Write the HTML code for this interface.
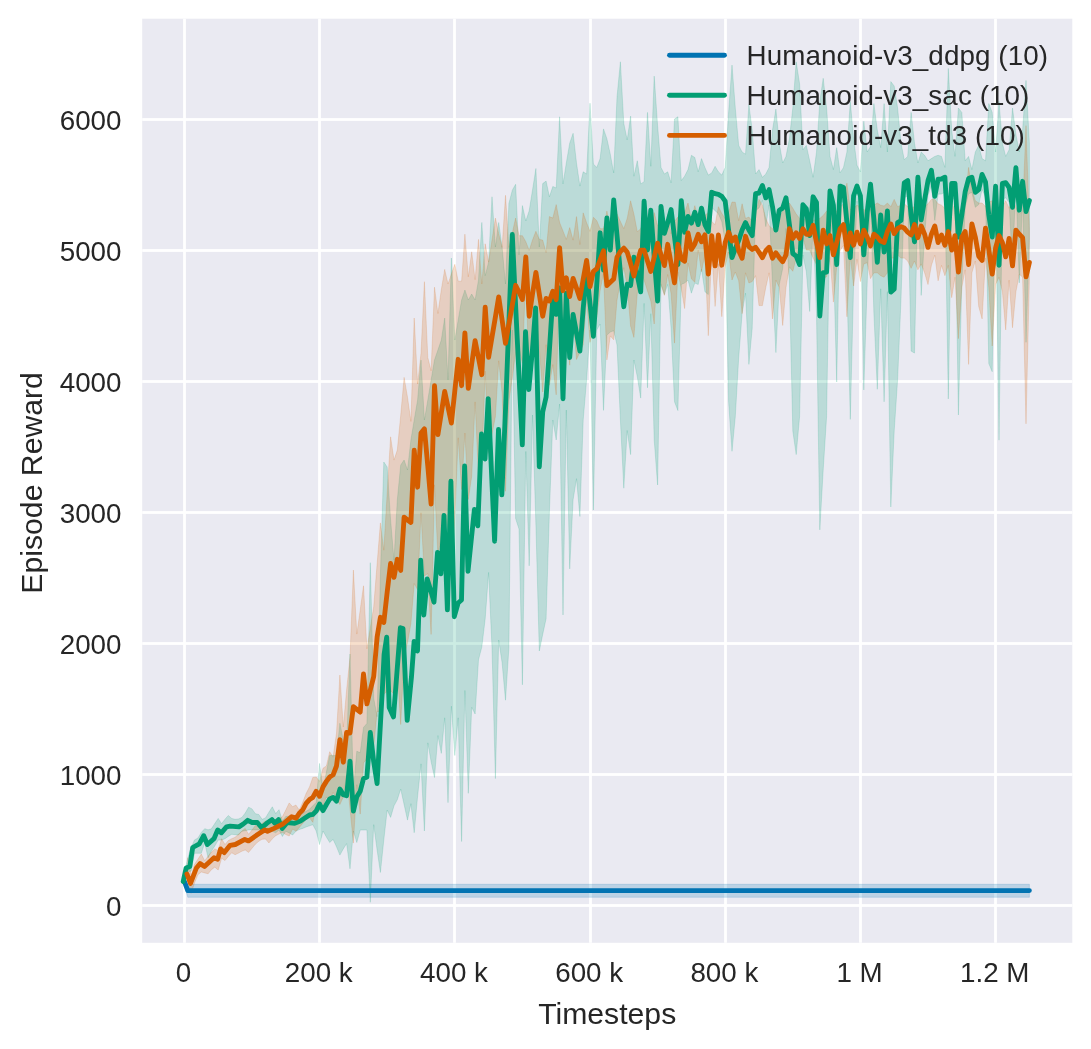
<!DOCTYPE html>
<html lang="en">
<head>
<meta charset="utf-8">
<title>Humanoid-v3 Episode Reward</title>
<style>
html,body{margin:0;padding:0;background:#fff;}
body{width:1091px;height:1049px;overflow:hidden;}
svg{display:block;}
text{font-family:"Liberation Sans", "DejaVu Sans", sans-serif;fill:#262626;}
.tick{font-size:27.78px;}
.lab{font-size:30.2px;}
.leg{font-size:27.78px;letter-spacing:0.1px;}
</style>
</head>
<body>
<svg width="1091" height="1049" viewBox="0 0 1091 1049">
<rect x="0" y="0" width="1091" height="1049" fill="#ffffff"/>
<rect x="142.2" y="18.7" width="930.1" height="924.1" fill="#EAEAF2"/>
<defs><clipPath id="axclip"><rect x="142.2" y="18.7" width="930.1" height="924.1"/></clipPath></defs>
<g fill="#ffffff">
<rect x="183.11" y="18.7" width="2.78" height="924.1"/>
<rect x="318.11" y="18.7" width="2.78" height="924.1"/>
<rect x="453.11" y="18.7" width="2.78" height="924.1"/>
<rect x="589.11" y="18.7" width="2.78" height="924.1"/>
<rect x="724.11" y="18.7" width="2.78" height="924.1"/>
<rect x="859.11" y="18.7" width="2.78" height="924.1"/>
<rect x="994.11" y="18.7" width="2.78" height="924.1"/>
<rect x="142.2" y="904.11" width="930.1" height="2.78"/>
<rect x="142.2" y="773.11" width="930.1" height="2.78"/>
<rect x="142.2" y="642.11" width="930.1" height="2.78"/>
<rect x="142.2" y="511.11" width="930.1" height="2.78"/>
<rect x="142.2" y="380.11" width="930.1" height="2.78"/>
<rect x="142.2" y="249.11" width="930.1" height="2.78"/>
<rect x="142.2" y="118.11" width="930.1" height="2.78"/>
</g>
<g clip-path="url(#axclip)">
<polygon points="184.4,877.0 187.8,884.3 1029.4,884.3 1029.4,897.3 187.8,897.3 184.4,886.0" fill="#0173B2" fill-opacity="0.2" stroke="#0173B2" stroke-opacity="0.2" stroke-width="0.8" stroke-linejoin="round"/>
<polygon points="184.4,873.0 187.8,858.1 191.2,847.4 194.5,839.9 197.9,838.1 201.3,832.4 204.7,828.7 208.1,829.8 211.4,828.8 214.8,823.5 218.2,818.4 221.6,823.7 225.0,819.2 228.3,815.5 231.7,818.4 235.1,819.3 238.5,818.9 241.9,817.4 245.2,813.1 248.6,807.2 252.0,808.9 255.4,813.7 258.8,814.5 262.1,819.3 265.5,817.9 268.9,812.2 272.3,806.8 275.7,813.6 279.0,809.7 282.4,820.8 285.8,816.4 289.2,816.3 292.6,818.8 295.9,818.3 299.3,816.4 302.7,813.3 306.1,811.3 309.5,809.2 312.8,805.8 316.2,802.4 319.6,763.4 323.0,790.1 326.4,772.1 329.7,755.4 333.1,755.5 336.5,755.6 339.9,723.2 343.3,740.2 346.6,747.0 350.0,654.0 353.4,791.2 356.8,751.2 360.2,752.8 363.5,727.4 366.9,723.5 370.3,562.7 373.7,698.1 377.1,716.7 380.4,574.9 383.8,462.0 387.2,467.0 390.6,520.0 394.0,560.0 397.3,500.0 400.7,465.0 404.1,460.0 407.5,470.0 410.9,440.0 414.2,420.0 417.6,400.0 421.0,360.0 424.4,420.0 427.8,400.0 431.1,380.0 434.5,360.0 437.9,350.0 441.3,340.0 444.7,318.0 448.0,380.0 451.4,258.0 454.8,340.0 458.2,320.0 461.6,300.0 464.9,290.0 468.3,300.0 471.7,294.0 475.1,300.0 478.5,280.0 481.8,222.5 485.2,275.7 488.6,262.0 492.0,196.8 495.4,247.0 498.7,222.5 502.1,247.0 505.5,284.0 508.9,203.4 512.3,190.2 515.6,184.3 519.0,254.8 522.4,205.6 525.8,221.0 529.2,210.7 532.5,190.0 535.9,168.5 539.3,247.0 542.7,183.6 546.1,181.1 549.4,196.8 552.8,186.5 556.2,188.0 559.6,116.8 563.0,183.9 566.3,163.0 569.7,143.2 573.1,133.3 576.5,163.0 579.9,186.1 583.2,171.8 586.6,174.0 590.0,103.2 593.4,164.1 596.8,167.4 600.1,158.6 603.5,128.9 606.9,138.8 610.3,154.2 613.7,172.9 617.0,97.0 620.4,61.8 623.8,123.4 627.2,139.9 630.6,116.1 633.9,176.2 637.3,160.8 640.7,183.9 644.1,181.7 647.5,112.4 650.8,166.3 654.2,76.1 657.6,125.6 661.0,167.4 664.4,174.0 667.7,171.8 671.1,182.8 674.5,119.0 677.9,116.8 681.3,180.6 684.6,176.2 688.0,169.6 691.4,155.3 694.8,157.5 698.2,171.8 701.5,158.6 704.9,167.4 708.3,175.1 711.7,172.9 715.1,166.3 718.4,171.8 721.8,175.1 725.2,167.4 728.6,112.4 732.0,65.1 735.3,108.0 738.7,145.4 742.1,152.0 745.5,154.2 748.9,104.7 752.2,130.0 755.6,174.0 759.0,169.6 762.4,177.3 765.8,174.0 769.1,167.4 772.5,130.0 775.9,109.1 779.3,143.2 782.7,163.0 786.0,156.4 789.4,138.8 792.8,108.0 796.2,61.8 799.6,83.8 802.9,149.8 806.3,145.4 809.7,160.8 813.1,177.3 816.5,152.0 819.8,101.4 823.2,78.3 826.6,108.0 830.0,156.4 833.4,169.6 836.7,147.6 840.1,172.9 843.5,167.4 846.9,152.0 850.3,101.4 853.6,138.8 857.0,165.2 860.4,171.8 863.8,121.2 867.2,152.0 870.5,146.5 873.9,103.6 877.3,130.0 880.7,147.6 884.1,103.6 887.4,152.0 890.8,81.6 894.2,86.0 897.6,108.0 901.0,143.2 904.3,159.7 907.7,156.4 911.1,112.4 914.5,143.2 917.9,163.0 921.2,152.0 924.6,155.3 928.0,160.8 931.4,158.6 934.8,156.4 938.1,155.3 941.5,156.4 944.9,167.4 948.3,68.4 951.7,130.0 955.0,156.4 958.4,108.0 961.8,112.4 965.2,160.8 968.6,156.4 971.9,169.6 975.3,152.0 978.7,145.4 982.1,158.6 985.5,160.8 988.8,103.6 992.2,112.4 995.6,152.0 999.0,101.4 1002.4,143.2 1005.7,156.4 1009.1,149.8 1012.5,108.0 1015.9,134.4 1019.3,152.0 1022.6,130.0 1026.0,80.5 1029.4,143.2 1029.4,238.4 1026.0,342.3 1022.6,196.7 1019.3,282.9 1015.9,182.8 1012.5,265.6 1009.1,202.6 1005.7,197.8 1002.4,199.4 999.0,440.2 995.6,201.1 992.2,371.7 988.8,363.6 985.5,196.9 982.1,189.5 978.7,204.6 975.3,207.3 971.9,192.4 968.6,193.8 965.2,206.7 961.8,283.0 958.4,415.0 955.0,199.0 951.7,199.0 948.3,398.9 944.9,192.2 941.5,194.0 938.1,194.2 934.8,220.4 931.4,185.4 928.0,195.6 924.6,235.1 921.2,295.4 917.9,193.0 914.5,353.1 911.1,351.1 907.7,195.8 904.3,197.7 901.0,299.0 897.6,379.8 894.2,431.1 890.8,507.0 887.4,291.7 884.1,401.8 880.7,288.8 877.3,389.3 873.9,313.7 870.5,199.5 867.2,283.0 863.8,390.0 860.4,218.8 857.0,201.2 853.6,284.4 850.3,419.4 846.9,283.0 843.5,202.5 840.1,201.1 836.7,382.0 833.4,256.9 830.0,206.4 826.6,416.5 823.2,470.0 819.8,529.9 816.5,313.7 813.1,224.1 809.7,311.5 806.3,271.8 802.9,255.0 799.6,416.5 796.2,454.6 792.8,431.1 789.4,283.0 786.0,228.5 782.7,268.5 779.3,284.4 775.9,352.6 772.5,284.4 769.1,204.8 765.8,226.6 762.4,200.4 759.0,208.0 755.6,210.8 752.2,328.4 748.9,364.4 745.5,293.2 742.1,313.7 738.7,357.8 735.3,416.5 732.0,451.3 728.6,401.8 725.2,240.8 721.8,221.7 718.4,213.7 715.1,210.7 711.7,207.5 708.3,294.6 704.9,291.7 701.5,269.2 698.2,284.5 694.8,283.0 691.4,293.2 688.0,280.1 684.6,283.0 681.3,284.4 677.9,410.6 674.5,401.8 671.1,328.4 667.7,284.4 664.4,294.6 661.0,284.4 657.6,485.0 654.2,440.0 650.8,313.7 647.5,387.8 644.1,303.4 640.7,398.1 637.3,376.8 633.9,360.0 630.6,454.6 627.2,430.5 623.8,488.2 620.4,420.0 617.0,345.0 613.7,330.7 610.3,332.1 606.9,335.0 603.5,410.4 600.1,324.0 596.8,330.0 593.4,510.0 590.0,330.0 586.6,379.8 583.2,420.0 579.9,516.5 576.5,478.7 573.1,499.7 569.7,568.9 566.3,410.0 563.0,615.0 559.6,404.0 556.2,440.0 552.8,420.0 549.4,512.3 546.1,618.7 542.7,634.4 539.3,651.0 535.9,524.9 532.5,415.0 529.2,565.8 525.8,451.5 522.4,684.8 519.0,529.0 515.6,518.6 512.3,330.0 508.9,648.0 505.5,700.2 502.1,662.8 498.7,640.0 495.4,778.6 492.0,648.0 488.6,572.5 485.2,618.7 481.8,647.1 478.5,659.8 475.1,714.0 471.7,707.3 468.3,793.3 464.9,690.5 461.6,841.5 458.2,717.8 454.8,755.5 451.4,706.2 448.0,802.7 444.7,717.8 441.3,753.4 437.9,735.6 434.5,777.5 431.1,761.6 427.8,742.9 424.4,831.0 421.0,763.9 417.6,796.4 414.2,832.7 410.9,803.7 407.5,820.1 404.1,804.5 400.7,789.1 397.3,799.7 394.0,805.8 390.6,817.4 387.2,810.0 383.8,840.0 380.4,872.5 377.1,850.0 373.7,824.7 370.3,902.3 366.9,830.0 363.5,830.0 360.2,830.0 356.8,842.5 353.4,831.0 350.0,868.8 346.6,843.6 343.3,848.9 339.9,855.1 336.5,846.8 333.1,839.4 329.7,842.5 326.4,837.0 323.0,831.0 319.6,844.6 316.2,831.0 312.8,824.7 309.5,825.8 306.1,827.0 302.7,828.4 299.3,829.5 295.9,831.3 292.6,835.0 289.2,832.9 285.8,831.3 282.4,836.5 279.0,829.9 275.7,832.8 272.3,831.3 268.9,831.3 265.5,831.3 262.1,833.5 258.8,829.9 255.4,829.9 252.0,829.9 248.6,829.9 245.2,830.7 241.9,831.3 238.5,835.0 235.1,834.7 231.7,834.3 228.3,836.4 225.0,838.7 221.6,840.1 218.2,840.1 214.8,846.0 211.4,851.1 208.1,857.7 204.7,843.1 201.3,853.3 197.9,853.3 194.5,853.3 191.2,870.9 187.8,872.4 184.4,882.7" fill="#029E73" fill-opacity="0.2" stroke="#029E73" stroke-opacity="0.2" stroke-width="0.8" stroke-linejoin="round"/>
<polygon points="187.8,857.7 191.2,875.3 194.5,864.3 197.9,859.2 201.3,854.1 204.7,860.7 208.1,856.2 211.4,852.1 214.8,848.9 218.2,850.4 221.6,838.7 225.0,844.5 228.3,840.5 231.7,838.7 235.1,837.2 238.5,834.2 241.9,831.1 245.2,828.4 248.6,834.3 252.0,830.1 255.4,825.5 258.8,826.9 262.1,823.2 265.5,821.1 268.9,824.0 272.3,821.9 275.7,821.1 279.0,818.6 282.4,816.7 285.8,810.0 289.2,802.9 292.6,806.7 295.9,805.0 299.3,810.0 302.7,802.3 306.1,793.5 309.5,786.9 312.8,777.5 316.2,777.0 319.6,781.4 323.0,768.2 326.4,766.0 329.7,751.7 333.1,757.2 336.5,733.0 339.9,675.0 343.3,727.0 346.6,690.0 350.0,657.1 353.4,570.1 356.8,634.1 360.2,610.0 363.5,585.8 366.9,648.8 370.3,628.0 373.7,606.8 377.1,564.0 380.4,522.9 383.8,550.2 387.2,493.0 390.6,436.8 394.0,460.1 397.3,450.0 400.7,415.6 404.1,377.4 407.5,397.2 410.9,421.4 414.2,318.0 417.6,384.0 421.0,353.2 424.4,281.7 427.8,357.6 431.1,370.8 434.5,287.2 437.9,313.6 441.3,289.8 444.7,269.4 448.0,284.0 451.4,274.0 454.8,264.3 458.2,281.2 461.6,281.2 464.9,234.2 468.3,276.8 471.7,251.8 475.1,279.7 478.5,239.4 481.8,284.0 485.2,243.8 488.6,262.1 492.0,240.0 495.4,218.1 498.7,233.6 502.1,247.4 505.5,195.3 508.9,247.4 512.3,232.9 515.6,218.1 519.0,235.7 522.4,235.7 525.8,241.7 529.2,250.4 532.5,240.0 535.9,231.3 539.3,239.4 542.7,240.1 546.1,252.6 549.4,216.6 552.8,218.1 556.2,204.6 559.6,222.5 563.0,231.0 566.3,239.4 569.7,227.6 573.1,240.1 576.5,216.6 579.9,244.5 583.2,212.9 586.6,222.7 590.0,231.3 593.4,217.3 596.8,220.7 600.1,228.7 603.5,228.7 606.9,211.1 610.3,228.7 613.7,218.4 617.0,214.0 620.4,221.4 623.8,228.7 627.2,218.4 630.6,200.8 633.9,214.0 637.3,231.7 640.7,228.7 644.1,220.1 647.5,231.0 650.8,241.2 654.2,212.6 657.6,225.8 661.0,224.5 664.4,235.6 667.7,214.5 671.1,233.7 674.5,221.4 677.9,217.0 681.3,228.8 684.6,212.6 688.0,203.0 691.4,219.9 694.8,205.7 698.2,218.4 701.5,211.7 704.9,215.5 708.3,212.5 711.7,221.4 715.1,224.7 718.4,206.7 721.8,213.5 725.2,218.4 728.6,212.6 732.0,202.0 735.3,202.3 738.7,220.7 742.1,203.8 745.5,218.4 748.9,217.0 752.2,221.4 755.6,214.0 759.0,199.4 762.4,205.2 765.8,218.4 769.1,225.8 772.5,228.7 775.9,228.7 779.3,218.4 782.7,211.1 786.0,208.2 789.4,203.0 792.8,208.2 796.2,214.0 799.6,218.4 802.9,219.9 806.3,218.4 809.7,218.4 813.1,219.9 816.5,219.9 819.8,218.4 823.2,215.5 826.6,211.1 830.0,214.0 833.4,211.1 836.7,211.1 840.1,206.7 843.5,203.8 846.9,183.2 850.3,209.6 853.6,208.2 857.0,205.2 860.4,206.7 863.8,209.6 867.2,211.1 870.5,209.6 873.9,205.2 877.3,203.0 880.7,205.2 884.1,206.0 887.4,203.0 890.8,206.7 894.2,199.4 897.6,206.7 901.0,205.2 904.3,203.8 907.7,206.7 911.1,208.2 914.5,206.7 917.9,205.2 921.2,208.2 924.6,206.7 928.0,203.8 931.4,199.4 934.8,199.4 938.1,203.8 941.5,205.2 944.9,208.2 948.3,203.8 951.7,199.4 955.0,214.0 958.4,206.7 961.8,217.0 965.2,199.4 968.6,167.4 971.9,189.1 975.3,200.8 978.7,203.0 982.1,203.0 985.5,206.7 988.8,202.3 992.2,200.8 995.6,206.7 999.0,208.2 1002.4,206.7 1005.7,200.8 1009.1,208.2 1012.5,199.4 1015.9,206.7 1019.3,214.0 1022.6,211.1 1026.0,125.7 1029.4,228.7 1029.4,278.6 1026.0,423.8 1022.6,277.2 1019.3,274.2 1015.9,291.8 1012.5,327.7 1009.1,280.1 1005.7,329.9 1002.4,291.8 999.0,277.2 995.6,284.5 992.2,346.0 988.8,287.4 985.5,258.1 982.1,318.9 978.7,306.4 975.3,261.0 971.9,272.8 968.6,364.4 965.2,269.8 961.8,287.4 958.4,338.7 955.0,277.2 951.7,297.7 948.3,265.4 944.9,275.7 941.5,265.4 938.1,280.8 934.8,255.1 931.4,265.4 928.0,284.5 924.6,272.8 921.2,263.9 917.9,269.8 914.5,261.0 911.1,268.3 907.7,261.0 904.3,258.1 901.0,258.1 897.6,255.1 894.2,258.1 890.8,258.1 887.4,272.8 884.1,277.2 880.7,275.7 877.3,272.8 873.9,272.8 870.5,278.6 867.2,262.7 863.8,263.9 860.4,281.6 857.0,259.3 853.6,286.0 850.3,256.6 846.9,316.8 843.5,245.4 840.1,250.7 836.7,266.9 833.4,302.1 830.0,257.3 826.6,276.7 823.2,278.6 819.8,296.1 816.5,264.7 813.1,258.1 809.7,250.0 806.3,250.0 802.9,237.6 799.6,258.2 796.2,258.1 792.8,271.3 789.4,266.9 786.0,287.4 782.7,325.5 779.3,287.4 775.9,280.1 772.5,318.9 769.1,272.8 765.8,287.4 762.4,305.6 759.0,305.6 755.6,275.7 752.2,281.6 748.9,283.0 745.5,272.8 742.1,313.7 738.7,280.7 735.3,272.0 732.0,280.0 728.6,252.0 725.2,266.6 721.8,316.7 718.4,263.8 715.1,306.4 711.7,250.3 708.3,335.7 704.9,254.8 701.5,271.7 698.2,250.2 694.8,282.2 691.4,278.9 688.0,263.0 684.6,308.6 681.3,288.8 677.9,272.1 674.5,343.1 671.1,293.7 667.7,274.5 664.4,295.4 661.0,284.5 657.6,260.4 654.2,324.0 650.8,301.2 647.5,291.0 644.1,280.1 640.7,271.5 637.3,293.0 633.9,337.4 630.6,326.1 627.2,285.7 623.8,267.7 620.4,281.4 617.0,300.2 613.7,339.8 610.3,335.9 606.9,359.9 603.5,273.3 600.1,290.7 596.8,317.0 593.4,325.6 590.0,342.3 586.6,298.5 583.2,344.8 579.9,352.1 576.5,359.5 573.1,316.7 569.7,365.2 566.3,316.7 563.0,349.4 559.6,273.3 556.2,394.8 552.8,364.6 549.4,385.2 546.1,344.7 542.7,392.0 539.3,348.6 535.9,314.0 532.5,347.5 529.2,380.6 525.8,272.8 522.4,363.3 519.0,348.4 515.6,352.7 512.3,377.5 508.9,400.8 505.5,491.3 502.1,392.8 498.7,360.8 495.4,416.4 492.0,434.3 488.6,452.7 485.2,371.2 481.8,463.8 478.5,476.2 475.1,401.9 471.7,476.2 468.3,499.5 464.9,433.1 461.6,489.6 458.2,437.8 454.8,517.7 451.4,571.6 448.0,530.4 444.7,514.1 441.3,536.4 437.9,555.6 434.5,484.8 431.1,634.4 427.8,573.5 424.4,576.0 421.0,512.8 417.6,589.8 414.2,583.5 410.9,623.4 407.5,642.8 404.1,657.0 400.7,724.5 397.3,668.9 394.0,694.2 390.6,690.6 387.2,691.0 383.8,694.4 380.4,711.8 377.1,711.4 373.7,746.6 370.3,752.0 366.9,758.8 363.5,762.9 360.2,814.1 356.8,784.7 353.4,843.1 350.0,808.6 346.6,775.0 343.3,796.9 339.9,804.5 336.5,799.0 333.1,792.3 329.7,802.2 326.4,796.9 323.0,805.7 319.6,811.2 316.2,805.7 312.8,822.3 309.5,817.8 306.1,819.5 302.7,823.4 299.3,827.5 295.9,831.2 292.6,829.0 289.2,836.0 285.8,834.6 282.4,832.3 279.0,834.0 275.7,835.7 272.3,838.8 268.9,843.0 265.5,839.0 262.1,839.3 258.8,841.2 255.4,844.2 252.0,848.3 248.6,852.4 245.2,850.0 241.9,851.2 238.5,853.1 235.1,854.7 231.7,852.8 228.3,856.5 225.0,860.5 221.6,858.3 218.2,870.0 214.8,867.2 211.4,869.7 208.1,873.8 204.7,872.9 201.3,872.0 197.9,874.7 194.5,882.9 191.2,893.3 187.8,881.5" fill="#D55E00" fill-opacity="0.2" stroke="#D55E00" stroke-opacity="0.2" stroke-width="0.8" stroke-linejoin="round"/>
<polyline points="184.4,881.5 187.8,890.6 1029.4,890.6" fill="none" stroke="#0173B2" stroke-width="4.86" stroke-linejoin="round" stroke-linecap="round"/>
<polyline points="183.2,881.6 186.1,868.0 189.8,866.5 192.7,847.5 199.3,843.8 203.7,835.7 207.4,844.5 214.0,838.7 217.7,829.9 221.3,832.8 226.5,826.9 230.1,826.2 238.9,826.9 243.3,824.0 247.7,820.3 252.1,822.5 257.3,822.5 261.7,827.7 266.8,823.3 271.9,819.6 274.9,823.3 278.5,819.6 282.2,828.4 287.3,822.5 294.7,823.3 300.5,821.1 304.9,818.1 309.5,815.0 312.8,814.4 316.2,811.1 319.6,804.0 323.0,810.6 326.4,804.5 329.7,799.0 333.1,797.4 336.5,801.2 339.9,789.1 343.3,794.6 346.6,795.7 350.0,761.1 353.4,811.1 356.8,796.8 360.2,791.3 363.5,778.7 366.9,777.0 370.3,732.5 373.7,761.6 377.1,783.6 382.4,688.6 384.1,654.3 386.7,637.2 389.2,707.5 393.5,716.9 400.4,627.7 403.0,628.6 407.2,720.4 411.5,676.6 414.1,641.4 417.5,650.9 420.7,560.1 423.8,615.0 427.2,579.0 430.6,590.0 434.0,602.2 437.5,552.4 440.9,573.8 444.0,515.5 447.4,609.9 450.9,481.2 454.3,616.7 458.1,603.0 461.5,600.0 464.6,466.0 468.0,571.3 474.4,509.5 477.8,525.8 481.5,434.0 485.0,459.0 488.2,398.6 494.6,541.2 498.5,429.4 501.8,494.9 505.5,410.0 508.9,322.0 512.3,234.5 515.6,305.0 519.0,375.0 522.3,444.9 525.5,331.7 528.8,389.5 532.5,349.0 535.6,307.9 539.3,466.8 542.7,412.0 546.1,397.0 549.4,350.0 552.8,298.0 556.2,314.4 559.6,288.0 563.0,398.7 566.3,293.2 569.7,357.5 573.1,314.4 576.5,333.0 579.9,351.1 583.2,308.6 586.6,270.0 590.0,303.5 593.4,336.3 596.8,284.0 600.1,232.8 603.5,270.1 606.9,218.0 610.3,250.1 613.7,199.9 617.0,235.3 620.4,272.6 623.8,306.7 627.2,284.2 630.6,285.5 633.9,257.2 637.3,275.2 640.7,291.9 644.1,201.2 647.5,250.1 650.8,210.2 654.2,257.2 657.6,301.0 661.0,206.4 664.4,233.4 667.7,222.5 671.1,209.5 674.5,237.0 677.9,264.5 681.3,200.6 684.6,232.2 688.0,216.4 691.4,223.2 694.8,212.2 698.2,224.6 701.5,208.1 704.9,224.6 708.3,231.5 711.7,192.3 715.1,193.7 718.4,194.4 721.8,196.4 725.2,201.2 728.6,230.1 732.0,257.6 735.3,248.7 738.7,240.4 742.1,230.1 745.5,222.6 748.9,230.1 752.2,235.6 755.6,193.7 759.0,193.0 762.4,185.4 765.8,197.8 769.1,189.6 772.5,206.7 775.9,230.1 779.3,210.2 782.7,208.1 786.0,197.8 789.4,224.6 792.8,253.5 796.2,256.2 799.6,264.5 802.9,204.7 806.3,208.8 809.7,235.6 813.1,196.8 816.5,202.6 819.8,316.0 823.2,272.7 826.6,272.1 830.0,190.9 833.4,205.4 836.7,264.5 840.1,186.1 843.5,187.5 846.9,221.9 850.3,257.6 853.6,195.7 857.0,186.1 860.4,195.7 863.8,254.9 867.2,212.2 870.5,184.1 873.9,219.1 877.3,262.4 880.7,215.0 884.1,252.1 887.4,210.9 890.8,292.0 894.2,289.2 897.6,222.6 901.0,220.5 904.3,182.7 907.7,180.6 911.1,215.0 914.5,241.8 917.9,177.2 921.2,219.8 924.6,199.9 928.0,180.6 931.4,170.3 934.8,196.4 938.1,179.2 941.5,179.0 944.9,177.2 948.3,237.0 951.7,183.4 955.0,183.4 958.4,237.0 961.8,215.0 965.2,191.6 968.6,178.6 971.9,177.2 975.3,192.3 978.7,189.6 982.1,174.4 985.5,182.0 988.8,215.0 992.2,237.0 995.6,186.1 999.0,265.2 1002.4,183.4 1005.7,182.7 1009.1,187.5 1012.5,207.4 1015.9,167.6 1019.3,210.2 1022.6,181.3 1026.0,211.6 1029.4,200.6" fill="none" stroke="#029E73" stroke-width="4.86" stroke-linejoin="round" stroke-linecap="round"/>
<polyline points="186.9,873.9 190.5,883.4 196.4,868.0 200.1,863.6 204.5,866.5 214.0,857.7 217.7,859.2 220.6,848.9 224.3,852.6 230.1,845.3 235.3,844.5 244.8,839.4 248.5,840.9 258.0,834.3 264.6,829.9 267.5,831.3 274.1,828.4 282.9,824.0 291.7,816.7 296.1,818.1 299.3,813.3 302.7,810.0 306.1,803.4 309.5,799.6 312.8,797.4 316.2,791.3 319.6,796.3 323.0,786.9 326.4,781.4 329.7,777.0 333.1,774.8 336.5,766.0 339.9,739.6 343.3,762.2 346.6,732.5 350.0,733.0 353.4,706.6 356.8,709.4 360.2,712.1 363.5,674.0 366.9,703.9 370.3,690.0 373.7,676.6 377.1,637.2 380.4,617.3 383.8,622.5 387.2,592.0 390.6,563.5 394.0,577.3 397.3,559.3 400.7,570.4 404.1,517.2 407.5,520.0 410.9,522.4 414.2,450.3 417.6,487.2 421.0,433.0 424.4,428.8 427.8,466.0 431.1,504.0 434.5,385.7 437.9,434.6 441.3,413.0 444.7,391.5 448.0,407.0 451.4,423.0 454.8,391.0 458.2,359.3 461.6,385.7 464.9,333.0 468.3,388.3 471.7,364.0 475.1,340.7 478.5,358.0 481.8,374.7 485.2,307.2 488.6,357.4 492.0,337.0 495.4,317.0 498.7,296.9 502.1,320.0 505.5,343.3 508.9,324.0 512.3,305.0 515.6,285.3 519.0,292.0 522.4,299.5 525.8,257.0 529.2,316.2 532.5,294.0 535.9,272.5 539.3,294.0 542.7,316.2 546.1,298.4 549.4,301.0 552.8,291.3 556.2,299.7 559.6,247.6 563.0,290.7 566.3,277.8 569.7,296.5 573.1,278.4 576.5,288.1 579.9,298.4 583.2,279.1 586.6,260.4 590.0,286.8 593.4,271.4 596.8,268.8 600.1,259.8 603.5,250.8 606.9,285.5 610.3,282.3 613.7,279.1 617.0,257.2 620.4,251.4 623.8,248.2 627.2,252.1 630.6,263.6 633.9,275.9 637.3,262.4 640.7,250.1 644.1,250.1 647.5,261.1 650.8,271.4 654.2,257.2 657.6,243.1 661.0,254.6 664.4,265.6 667.7,244.3 671.1,263.6 674.5,282.9 677.9,244.3 681.3,259.0 684.6,261.1 688.0,232.9 691.4,249.4 694.8,243.9 698.2,234.2 701.5,241.8 704.9,234.9 708.3,274.1 711.7,235.6 715.1,265.9 718.4,234.9 721.8,265.2 725.2,242.5 728.6,232.2 732.0,241.1 735.3,237.0 738.7,250.7 742.1,258.3 745.5,236.3 748.9,246.6 752.2,249.4 755.6,247.3 759.0,252.1 762.4,257.6 765.8,250.7 769.1,247.3 772.5,258.3 775.9,252.8 779.3,257.6 782.7,261.7 786.0,254.9 789.4,228.7 792.8,238.4 796.2,232.9 799.6,238.4 802.9,228.7 806.3,234.2 809.7,234.2 813.1,225.3 816.5,242.5 819.8,257.6 823.2,230.1 826.6,243.9 830.0,235.6 833.4,254.9 836.7,242.5 840.1,228.7 843.5,224.6 846.9,249.4 850.3,232.9 853.6,245.2 857.0,232.2 860.4,243.9 863.8,230.1 867.2,237.0 870.5,245.9 873.9,234.2 877.3,237.0 880.7,241.1 884.1,242.5 887.4,231.5 890.8,223.9 894.2,233.6 897.6,228.7 901.0,226.7 904.3,228.1 907.7,232.2 911.1,234.9 914.5,224.6 917.9,237.7 921.2,226.0 924.6,234.2 928.0,247.3 931.4,234.2 934.8,226.0 938.1,242.5 941.5,234.9 944.9,245.2 948.3,231.5 951.7,250.1 955.0,235.6 958.4,272.1 961.8,237.0 965.2,231.5 968.6,264.5 971.9,223.9 975.3,237.0 978.7,256.2 982.1,260.4 985.5,228.1 988.8,249.4 992.2,274.1 995.6,248.0 999.0,235.6 1002.4,242.5 1005.7,256.9 1009.1,238.4 1012.5,265.9 1015.9,230.1 1019.3,234.2 1022.6,237.7 1026.0,276.9 1029.4,262.4" fill="none" stroke="#D55E00" stroke-width="4.86" stroke-linejoin="round" stroke-linecap="round"/>
</g>
<text class="tick" x="183.6" y="982.0" text-anchor="middle">0</text>
<text class="tick" x="318.8" y="982.0" text-anchor="middle">200 k</text>
<text class="tick" x="454.0" y="982.0" text-anchor="middle">400 k</text>
<text class="tick" x="589.2" y="982.0" text-anchor="middle">600 k</text>
<text class="tick" x="724.4" y="982.0" text-anchor="middle">800 k</text>
<text class="tick" x="859.6" y="982.0" text-anchor="middle">1 M</text>
<text class="tick" x="994.8" y="982.0" text-anchor="middle">1.2 M</text>
<text class="tick" x="121.5" y="916.2" text-anchor="end">0</text>
<text class="tick" x="121.5" y="785.1" text-anchor="end">1000</text>
<text class="tick" x="121.5" y="654.0" text-anchor="end">2000</text>
<text class="tick" x="121.5" y="522.9" text-anchor="end">3000</text>
<text class="tick" x="121.5" y="391.8" text-anchor="end">4000</text>
<text class="tick" x="121.5" y="260.7" text-anchor="end">5000</text>
<text class="tick" x="121.5" y="129.6" text-anchor="end">6000</text>
<text class="lab" x="607.2" y="1023.6" text-anchor="middle">Timesteps</text>
<text class="lab" transform="translate(41.6,482.9) rotate(-90)" text-anchor="middle">Episode Reward</text>
<line x1="669.5" y1="55.3" x2="724.5" y2="55.3" stroke="#0173B2" stroke-width="4.86" stroke-linecap="round"/>
<text class="leg" x="746.6" y="64.8">Humanoid-v3_ddpg (10)</text>
<line x1="669.5" y1="95.3" x2="724.5" y2="95.3" stroke="#029E73" stroke-width="4.86" stroke-linecap="round"/>
<text class="leg" x="746.6" y="104.8">Humanoid-v3_sac (10)</text>
<line x1="669.5" y1="135.4" x2="724.5" y2="135.4" stroke="#D55E00" stroke-width="4.86" stroke-linecap="round"/>
<text class="leg" x="746.6" y="144.9">Humanoid-v3_td3 (10)</text>
</svg>
</body>
</html>
